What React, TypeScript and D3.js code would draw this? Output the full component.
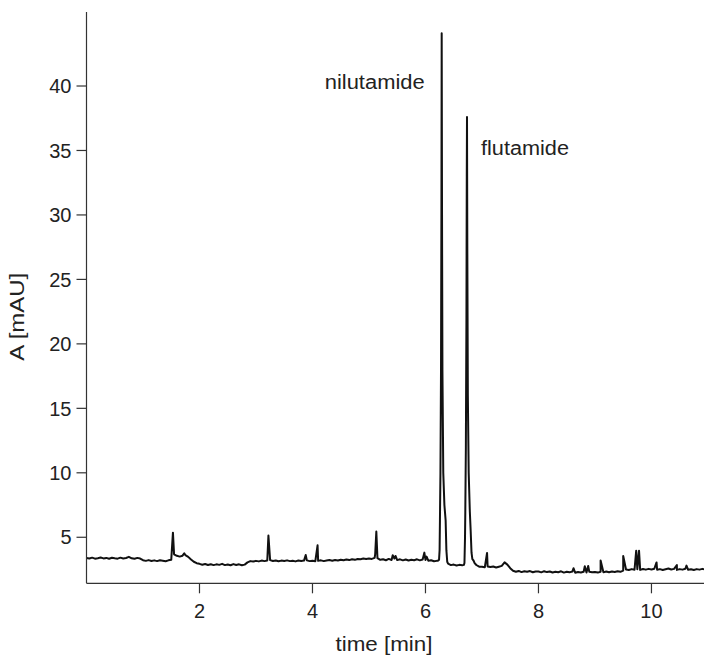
import React from "react";
import * as d3 from "d3";

// ---- data ----
const baselineStart = 0;
const baselineStep = 0.05; // min
const baseline: number[] = [
  // 0.00 - 0.95
  3.39, 3.35, 3.42, 3.34, 3.38, 3.43, 3.36, 3.40, 3.33, 3.41, 3.37, 3.34, 3.42, 3.36, 3.39, 3.48, 3.37, 3.33, 3.40, 3.35,
  // 1.00 - 1.95
  3.22, 3.17, 3.23, 3.16, 3.21, 3.15, 3.22, 3.18, 3.14, 3.21, 3.25, 3.68, 3.56, 3.50, 3.57, 3.62, 3.48, 3.27, 3.10, 2.99,
  // 2.00 - 2.95
  2.94, 2.87, 2.93, 2.85, 2.91, 2.84, 2.90, 2.86, 2.94, 2.84, 2.89, 2.83, 2.92, 2.85, 2.90, 2.83, 2.88, 3.05, 3.15, 3.12,
  // 3.00 - 3.95
  3.17, 3.13, 3.19, 3.15, 3.20, 3.23, 3.16, 3.20, 3.14, 3.19, 3.16, 3.21, 3.15, 3.18, 3.13, 3.20, 3.16, 3.19, 3.21, 3.15,
  // 4.00 - 4.95
  3.18, 3.14, 3.17, 3.21, 3.15, 3.20, 3.23, 3.18, 3.24, 3.20, 3.26, 3.22, 3.28, 3.23, 3.30, 3.25, 3.32, 3.29, 3.35, 3.31,
  // 5.00 - 5.95
  3.36, 3.32, 3.40, 3.38, 3.25, 3.30, 3.22, 3.32, 3.24, 3.35, 3.23, 3.29, 3.21, 3.28, 3.20, 3.26, 3.22, 3.29, 3.21, 3.27,
  // 6.00 - 6.95
  3.24, 3.18, 3.22, 3.14, 3.17, 3.10, 3.00, 2.95, 2.90, 2.84, 2.88, 2.81, 2.86, 2.83, 2.85, 3.00, 3.10, 3.05, 2.85, 2.72,
  // 7.00 - 7.95
  2.72, 2.67, 2.74, 2.69, 2.73, 2.66, 2.72, 2.78, 3.05, 2.88, 2.60, 2.40, 2.33, 2.39, 2.30, 2.37, 2.32, 2.38, 2.29, 2.35,
  // 8.00 - 8.95
  2.34, 2.28, 2.37, 2.30, 2.35, 2.27, 2.33, 2.29, 2.36, 2.26, 2.32, 2.28, 2.34, 2.25, 2.31, 2.27, 2.33, 2.26, 2.32, 2.28,
  // 9.00 - 9.95
  2.31, 2.26, 2.33, 2.28, 2.35, 2.29, 2.34, 2.30, 2.36, 2.32, 2.42, 2.50, 2.46, 2.53, 2.48, 2.52, 2.47, 2.54, 2.49, 2.55,
  // 10.00 - 10.95
  2.50, 2.56, 2.48, 2.53, 2.46, 2.52, 2.58, 2.50, 2.55, 2.47, 2.53, 2.49, 2.56, 2.48, 2.52, 2.46, 2.53, 2.49, 2.55, 2.50,
];

// small impurity / noise spikes [time, absorbance]
const spikes: [number, number][] = [
  [1.53, 5.36], [1.73, 3.75], [3.22, 5.13], [3.88, 3.63], [4.09, 4.38],
  [5.11, 3.7], [5.13, 5.44], [5.42, 3.6], [5.47, 3.55], [5.98, 3.81],
  [6.02, 3.5], [7.09, 3.78], [8.62, 2.6], [8.82, 2.75], [8.88, 2.78],
  [9.1, 3.19], [9.5, 3.55], [9.73, 3.96], [9.78, 3.96], [10.09, 3.05],
  [10.45, 2.85], [10.62, 2.8],
];

// main peaks [time, absorbance]
const nilutamidePeak: [number, number][] = [
  [6.22, 3.18], [6.24, 3.25], [6.25, 4.0], [6.256, 6.3], [6.265, 10], [6.275, 18],
  [6.282, 30], [6.287, 44.1], [6.293, 30], [6.3, 18], [6.315, 10], [6.335, 7.5],
  [6.357, 6.3], [6.37, 4.0], [6.385, 3.1], [6.4, 2.95],
];
const flutamidePeak: [number, number][] = [
  [6.68, 2.86], [6.69, 3.0], [6.7, 5.0], [6.705, 7], [6.715, 12], [6.725, 22],
  [6.731, 33], [6.735, 37.6], [6.741, 27], [6.75, 16], [6.765, 10], [6.785, 7],
  [6.8, 5.5], [6.815, 3.8], [6.83, 3.3], [6.85, 3.2], [6.87, 3.0],
];
const peakWindows: [number, number][] = [[6.22, 6.4], [6.68, 6.87]];

const xTicks = [2, 4, 6, 8, 10];
const yTicks = [5, 10, 15, 20, 25, 30, 35, 40];
const peakLabels = [
  { text: "nilutamide", t: 6.287 },
  { text: "flutamide", t: 6.735 },
];

const FONT = "'Liberation Sans', Arial, Helvetica, sans-serif";

export default function App() {
  const W = 704;
  const H = 656;
  const x = d3.scaleLinear().domain([0, 10.93]).range([86.5, 704]);
  const y = d3.scaleLinear().domain([1.43, 45.74]).range([583.3, 12]);

  const pts: [number, number][] = [];
  baseline.forEach((v, i) => {
    const t = baselineStart + i * baselineStep;
    if (peakWindows.some(([a, b]) => t >= a && t <= b)) return;
    pts.push([t, v]);
  });
  spikes.forEach((p) => pts.push(p));
  nilutamidePeak.forEach((p) => pts.push(p));
  flutamidePeak.forEach((p) => pts.push(p));
  pts.sort((a, b) => a[0] - b[0]);

  const line = d3
    .line<[number, number]>()
    .x((d) => x(d[0]))
    .y((d) => y(d[1]));

  const axisColor = "#333";
  const textColor = "#222";
  const x0 = x(0);
  const yBottom = y.range()[0];

  return (
    <svg
      width={W}
      height={H}
      style={{ position: "absolute", left: 0, top: 0, background: "#fff" }}
      fontFamily={FONT}
    >
      <rect x={0} y={0} width={W} height={H} fill="#fff" />
      {/* trace */}
      <path d={line(pts) || ""} fill="none" stroke="#111" strokeWidth={2} strokeLinejoin="round" />

      {/* axes */}
      <line x1={x0} x2={x0} y1={12} y2={yBottom} stroke={axisColor} strokeWidth={1.2} />
      <line x1={x0} x2={W} y1={yBottom} y2={yBottom} stroke={axisColor} strokeWidth={1.2} />

      {yTicks.map((v) => (
        <g key={"y" + v}>
          <line x1={x0 - 10} x2={x0} y1={y(v)} y2={y(v)} stroke={axisColor} strokeWidth={1.2} />
          <text x={x0 - 15} y={y(v)} dy="0.36em" textAnchor="end" fontSize={20} fill={textColor}>
            {v}
          </text>
        </g>
      ))}
      {xTicks.map((t) => (
        <g key={"x" + t}>
          <line x1={x(t)} x2={x(t)} y1={yBottom} y2={yBottom + 10} stroke={axisColor} strokeWidth={1.2} />
          <text x={x(t)} y={618.3} textAnchor="middle" fontSize={20} fill={textColor}>
            {t}
          </text>
        </g>
      ))}

      {/* axis titles */}
      <text x={384} y={651} textAnchor="middle" fontSize={20} fill={textColor} textLength={97} lengthAdjust="spacingAndGlyphs">
        time [min]
      </text>
      <text
        transform="translate(24,316.7) rotate(-90)"
        textAnchor="middle"
        fontSize={20}
        fill={textColor}
        textLength={88}
        lengthAdjust="spacingAndGlyphs"
      >
        A [mAU]
      </text>

      {/* peak labels */}
      <text x={x(peakLabels[0].t) - 117} y={89.3} fontSize={20} fill={textColor} textLength={100} lengthAdjust="spacingAndGlyphs">
        {peakLabels[0].text}
      </text>
      <text x={x(peakLabels[1].t) + 14} y={155} fontSize={20} fill={textColor} textLength={88} lengthAdjust="spacingAndGlyphs">
        {peakLabels[1].text}
      </text>
    </svg>
  );
}
